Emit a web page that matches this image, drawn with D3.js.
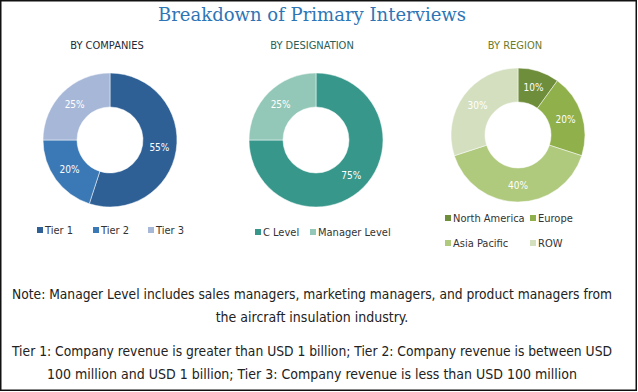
<!DOCTYPE html>
<html>
<head>
<meta charset="utf-8">
<script src="https://cdn.jsdelivr.net/npm/d3@7"></script>
<style>
  body { margin: 0; background: #fff; }
  text { font-family: "Liberation Sans Narrow", "DejaVu Sans Condensed", sans-serif; }
</style>
</head>
<body>
<div id="chart-area"></div>
<script>
/* Data */
var companyLabels = ["Tier 1", "Tier 2", "Tier 3"];
var companyValues = [55, 20, 25];
var designationLabels = ["C Level", "Manager Level"];
var designationValues = [75, 25];
var regionLabels = ["North America", "Europe", "Asia Pacific", "ROW"];
var regionValues = [10, 20, 40, 30];

var noteLines = [
    "Note: Manager Level includes sales managers, marketing managers, and product managers from",
    "the aircraft insulation industry.",
    "Tier 1: Company revenue is greater than USD 1 billion; Tier 2: Company revenue is between USD",
    "100 million and USD 1 billion; Tier 3: Company revenue is less than USD 100 million"
];

var width = 638;
var height = 392;

var svg = d3.select("#chart-area")
    .append("svg")
    .attr("width", width)
    .attr("height", height);

/* outer frame */
svg.append("rect")
    .attr("x", 0.75).attr("y", 0.75)
    .attr("width", 635.5).attr("height", 389.5)
    .attr("fill", "none")
    .attr("stroke", "#111")
    .attr("stroke-width", 1.5);

/* title */
svg.append("text")
    .attr("x", 312).attr("y", 21)
    .attr("text-anchor", "middle")
    .style("font-family", "'DejaVu Serif', 'Liberation Serif', serif")
    .style("font-size", "19px")
    .attr("textLength", 308)
    .attr("lengthAdjust", "spacingAndGlyphs")
    .attr("fill", "#2e75b6")
    .text("Breakdown of Primary Interviews");

/* one donut per panel */
var panels = [
    { title: "BY COMPANIES", titleColor: "#1f2a38", cx: 110, cy: 140, titleX: 107,
      labels: companyLabels, values: companyValues,
      colors: ["#2e6096", "#3b78b6", "#a6b7d7"],
      legend: [[37, 230], [93, 230], [148, 230]] },
    { title: "BY DESIGNATION", titleColor: "#2c5e55", cx: 316, cy: 140, titleX: 312,
      labels: designationLabels, values: designationValues,
      colors: ["#36978a", "#93c8b8"],
      legend: [[255, 232], [310, 232]] },
    { title: "BY REGION", titleColor: "#6b7a2c", cx: 518, cy: 135, titleX: 515,
      labels: regionLabels, values: regionValues,
      colors: ["#6f8e3c", "#8fb04b", "#afc97d", "#d4dfc0"],
      legend: [[445, 218], [530, 218], [445, 243], [530, 243]] }
];

var pie = d3.pie().value(d => d).sort(null);
var arc = d3.arc().innerRadius(33).outerRadius(67);

panels.forEach(function(p) {
    svg.append("text")
        .attr("x", p.titleX).attr("y", 49)
        .attr("text-anchor", "middle")
        .attr("fill", p.titleColor)
        .style("font-size", "11px")
        .text(p.title);

    var g = svg.append("g")
        .attr("transform", "translate(" + p.cx + "," + p.cy + ")");

    var arcs = pie(p.values);

    g.selectAll("path")
        .data(arcs)
        .enter().append("path")
        .attr("d", arc)
        .attr("fill", (d, i) => p.colors[i])
        .attr("stroke", "#fff")
        .attr("stroke-width", 0.5);

    g.selectAll(".lbl")
        .data(arcs)
        .enter().append("text")
        .attr("class", "lbl")
        .attr("transform", d => "translate(" + arc.centroid(d) + ")")
        .attr("dy", "0.35em")
        .attr("text-anchor", "middle")
        .attr("fill", "#fff")
        .style("font-size", "10px")
        .text(d => d.data + "%");

    /* legend */
    var lg = svg.append("g");
    lg.selectAll("rect")
        .data(p.labels)
        .enter().append("rect")
        .attr("x", (d, i) => p.legend[i][0])
        .attr("y", (d, i) => p.legend[i][1] - 3)
        .attr("width", 6).attr("height", 6)
        .attr("fill", (d, i) => p.colors[i]);
    lg.selectAll("text")
        .data(p.labels)
        .enter().append("text")
        .attr("x", (d, i) => p.legend[i][0] + 8)
        .attr("y", (d, i) => p.legend[i][1])
        .attr("dy", "0.35em")
        .attr("fill", "#333")
        .style("font-size", "11px")
        .text(d => d);
});

/* notes */
var noteY = [294, 317, 351, 374];
svg.selectAll(".note")
    .data(noteLines)
    .enter().append("text")
    .attr("class", "note")
    .attr("x", 312)
    .attr("y", (d, i) => noteY[i])
    .attr("dy", "0.35em")
    .attr("text-anchor", "middle")
    .attr("fill", "#222")
    .style("font-size", "14px")
    .each(function(d, i) {
        if (i === 0 || i === 2) {
            d3.select(this).attr("textLength", 600).attr("lengthAdjust", "spacingAndGlyphs");
        }
    })
    .text(d => d);
</script>
</body>
</html>
